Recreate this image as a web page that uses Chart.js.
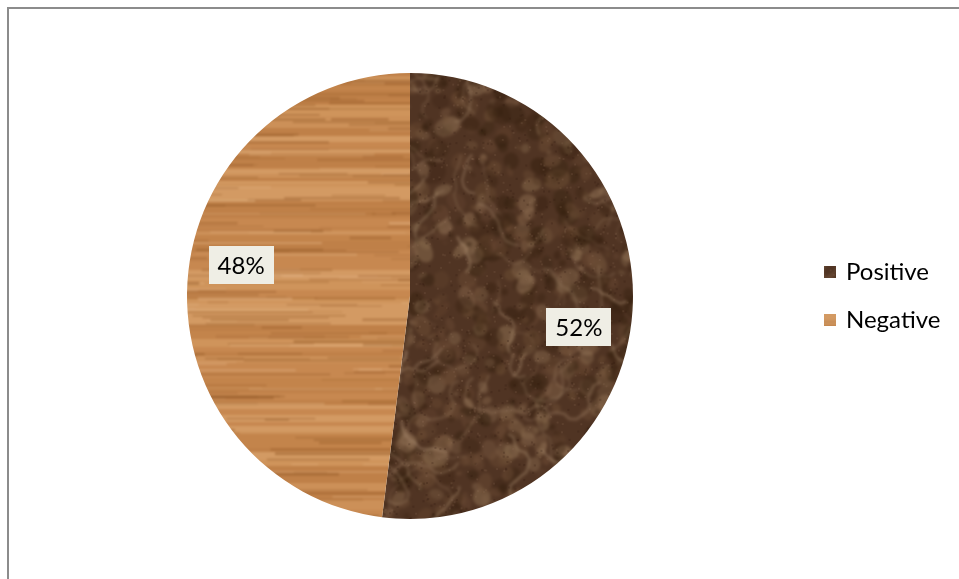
<!DOCTYPE html>
<html>
<head>
<meta charset="utf-8">
<script src="https://cdn.jsdelivr.net/npm/chart.js"></script>
<style>
  html, body { margin: 0; padding: 0; background: #fff; }
  #wrap { position: relative; width: 959px; height: 579px; overflow: hidden; }
  #frame { position: absolute; left: 7px; top: 7px; width: 990px; height: 620px;
           border-top: 2px solid #8c8c8c; border-left: 2px solid #8c8c8c; }
  #pie { position: absolute; left: 0; top: 0; }
</style>
</head>
<body>
<div id="wrap">
  <div id="frame"></div>
  <canvas id="pie" width="959" height="579"></canvas>
</div>
<script>
const labels = ['Positive', 'Negative'];
const shares = [52, 48];

const FONT = 'Lato, "Noto Sans", sans-serif';

// small seeded generator so the textures come out the same every load
function seeded(seed) {
    let s = seed >>> 0;
    return () => {
        s = (s * 1664525 + 1013904223) >>> 0;
        return s / 4294967296;
    };
}

// tiles cover the whole canvas so no seam shows inside the pie
const TW = 960, TH = 600;

function layer() {
    const c = document.createElement('canvas');
    c.width = TW; c.height = TH;
    return c;
}

// copy a layer onto another through one blur pass
function blurOnto(dst, src, px) {
    const g = dst.getContext('2d');
    g.filter = 'blur(' + px + 'px)';
    g.drawImage(src, 0, 0);
    g.filter = 'none';
}

// light oak: soft horizontal grain
function woodPattern(ctx) {
    const r = seeded(11);
    const base = layer();
    const g = base.getContext('2d');
    g.fillStyle = '#c98a52';
    g.fillRect(0, 0, TW, TH);
    const tones = ['#b97a42', '#d49b63', '#c68750', '#daa570', '#bf8048', '#cf945d'];
    let y = 0;
    while (y < TH) {
        const h = 2 + Math.floor(r() * 9);
        g.globalAlpha = 0.6;
        g.fillStyle = tones[Math.floor(r() * tones.length)];
        g.fillRect(0, y, TW, h);
        y += h;
    }
    for (let i = 0; i < 1000; i++) {
        const sx = r() * TW, sy = r() * TH;
        const len = 20 + r() * 160, h = 1 + r() * 2;
        g.globalAlpha = 0.2 + r() * 0.35;
        g.fillStyle = r() < 0.7 ? '#9a5f2c' : '#e2b282';
        g.fillRect(sx, sy, len, h);
    }
    g.globalAlpha = 1;
    const out = layer();
    out.getContext('2d').drawImage(base, 0, 0);
    blurOnto(out, base, 1);
    return ctx.createPattern(out, 'repeat');
}

// dark brown marble: mottled ground with pale net-like veins
function marblePattern(ctx) {
    const r = seeded(5);
    const base = layer();
    const g = base.getContext('2d');
    g.fillStyle = '#503423';
    g.fillRect(0, 0, TW, TH);
    for (let i = 0; i < 4000; i++) {
        const x = r() * TW, y = r() * TH, rad = 2 + r() * 8;
        g.globalAlpha = 0.25 + r() * 0.3;
        const t = r();
        g.fillStyle = t < 0.4 ? '#35200f' : t < 0.75 ? '#6d4d35' : '#8f7053';
        g.beginPath();
        g.ellipse(x, y, rad, rad * (0.5 + r()), r() * 3, 0, Math.PI * 2);
        g.fill();
    }
    for (let i = 0; i < 420; i++) {
        let x = r() * TW, y = r() * TH;
        g.globalAlpha = 0.25 + r() * 0.3;
        g.strokeStyle = r() < 0.5 ? '#a88b6e' : '#8e7056';
        g.lineWidth = 1 + r() * 2;
        g.beginPath();
        g.moveTo(x, y);
        const steps = 4 + Math.floor(r() * 10);
        let dir = r() * Math.PI * 2;
        for (let k = 0; k < steps; k++) {
            dir += (r() - 0.5) * 1.6;
            x += Math.cos(dir) * 7;
            y += Math.sin(dir) * 7;
            g.lineTo(x, y);
        }
        g.stroke();
    }
    g.globalAlpha = 1;
    const out = layer();
    const o = out.getContext('2d');
    o.drawImage(base, 0, 0);
    blurOnto(out, base, 1.5);
    // fine speckle on top, unblurred
    for (let i = 0; i < 8000; i++) {
        o.globalAlpha = 0.22;
        o.fillStyle = r() < 0.5 ? '#2c190c' : '#8a6b50';
        o.fillRect(r() * TW, r() * TH, 2, 2);
    }
    o.globalAlpha = 1;
    return ctx.createPattern(out, 'repeat');
}

const canvas = document.getElementById('pie');
const ctx2d = canvas.getContext('2d');
const fills = [marblePattern(ctx2d), woodPattern(ctx2d)];

// percentage boxes on each slice
const sliceLabels = {
    id: 'sliceLabels',
    afterDatasetsDraw(chart) {
        const { ctx } = chart;
        const meta = chart.getDatasetMeta(0);
        ctx.save();
        ctx.font = '24px ' + FONT;
        ctx.textAlign = 'center';
        ctx.textBaseline = 'middle';
        meta.data.forEach((arc, i) => {
            const p = arc.getProps(['x', 'y', 'startAngle', 'endAngle', 'outerRadius']);
            const a = (p.startAngle + p.endAngle) / 2 + 0.12;
            const rr = p.outerRadius * 0.77;
            const cx = p.x + Math.cos(a) * rr;
            const cy = p.y + Math.sin(a) * rr;
            const text = chart.data.datasets[0].data[i] + '%';
            const w = ctx.measureText(text).width + 18;
            const h = 38;
            ctx.fillStyle = '#efeee5';
            ctx.fillRect(Math.round(cx - w / 2), Math.round(cy - h / 2), Math.round(w), h);
            ctx.fillStyle = '#000';
            ctx.fillText(text, cx, cy + 1);
        });
        ctx.restore();
    }
};

// legend to the right of the pie
const sideLegend = {
    id: 'sideLegend',
    afterDraw(chart) {
        const { ctx } = chart;
        const ds = chart.data.datasets[0];
        ctx.save();
        ctx.font = '24px ' + FONT;
        ctx.textBaseline = 'middle';
        chart.data.labels.forEach((lab, i) => {
            const y = 272 + i * 48;
            ctx.fillStyle = ds.backgroundColor[i];
            ctx.fillRect(824, y - 6, 12, 12);
            ctx.fillStyle = '#000';
            ctx.fillText(lab, 846, y);
        });
        ctx.restore();
    }
};

new Chart(canvas, {
    type: 'pie',
    data: {
        labels: labels,
        datasets: [{
            data: shares,
            backgroundColor: fills,
            borderWidth: 0
        }]
    },
    options: {
        responsive: false,
        animation: false,
        layout: { padding: { left: 187, right: 326, top: 73, bottom: 60 } },
        plugins: {
            legend: { display: false },
            tooltip: { enabled: false }
        }
    },
    plugins: [sliceLabels, sideLegend]
});
</script>
</body>
</html>
